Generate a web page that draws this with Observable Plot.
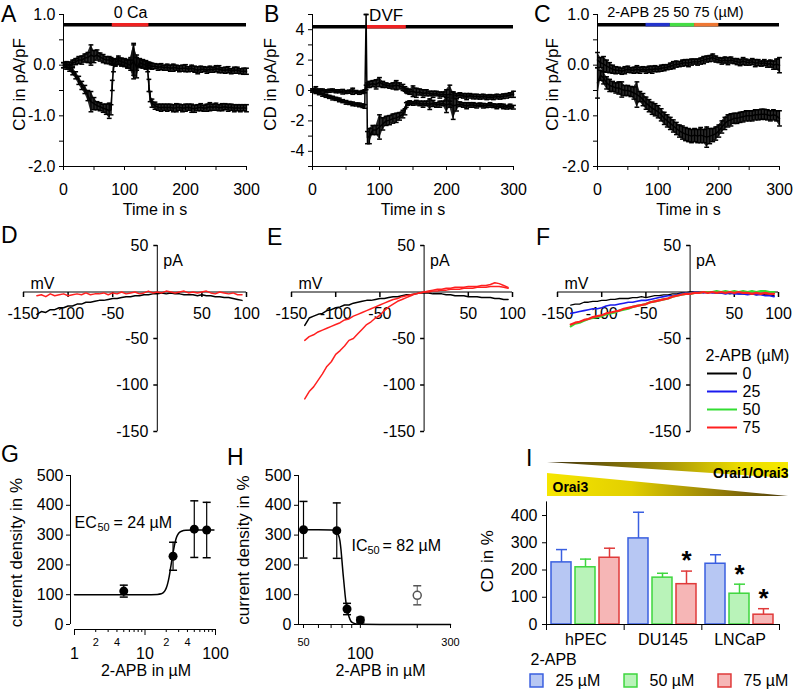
<!DOCTYPE html>
<html><head><meta charset="utf-8">
<script src="https://cdn.jsdelivr.net/npm/d3@7"></script>
<script src="https://cdn.jsdelivr.net/npm/@observablehq/plot@0.6"></script>
<style>
body{margin:0;background:#fff;}
#fig{position:relative;width:793px;height:690px;overflow:hidden;background:#fff;font-family:"Liberation Sans",Arial,Helvetica,sans-serif;color:#000;}
.lab{position:absolute;font-size:23px;line-height:26px;}
</style></head><body><div id="fig"></div>
<script>
// ---------------- DATA ----------------
// Panels A-C: time courses (s) and current density (pA/pF), mean and SEM
const tA = [0,5,10,15,20,25,30,35,40,45,50,55,60,65,70,75,78,80,82,85,90,95,100,105,110,115,120,125,130,135,138,140,142,145,150,155,160,165,170,175,180,185,190,195,200,205,210,215,220,225,230,235,240,245,250,255,260,265,270,275,280,285,290,295,300];
const aUpper = [0.00,0.02,0.00,0.04,0.07,0.10,0.10,0.14,0.15,0.20,0.17,0.20,0.16,0.13,0.10,0.10,0.08,0.07,0.06,0.05,0.08,0.05,0.06,0.03,0.05,0.10,0.05,0.03,0.04,0.02,0.00,0.00,-0.01,
  -0.02,-0.02,-0.04,-0.03,-0.05,-0.04,-0.06,-0.05,-0.05,-0.07,-0.06,-0.06,-0.08,-0.06,-0.08,-0.10,-0.08,-0.08,-0.10,-0.08,-0.09,-0.07,-0.08,-0.10,-0.10,-0.09,-0.12,-0.10,-0.10,-0.12,-0.12,-0.12];
const aUpperErr = [0.05,0.05,0.06,0.06,0.06,0.07,0.08,0.08,0.1,0.2,0.12,0.1,0.08,0.08,0.07,0.07,0.07,0.06,0.06,0.06,0.07,0.07,0.06,0.08,0.1,0.3,0.15,0.08,0.07,0.07,0.06,0.06,0.06,
  0.06,0.05,0.06,0.06,0.05,0.06,0.06,0.07,0.05,0.06,0.06,0.07,0.05,0.06,0.06,0.07,0.06,0.05,0.06,0.06,0.05,0.06,0.07,0.05,0.06,0.06,0.05,0.06,0.06,0.05,0.06,0.06];
const aLower = [0.00,-0.03,-0.06,-0.12,-0.20,-0.30,-0.40,-0.48,-0.60,-0.72,-0.76,-0.80,-0.82,-0.85,-0.87,-0.90,-0.88,-0.40,-0.05,0.05,0.10,0.07,0.05,0.02,0.00,0.08,-0.05,0.05,0.02,0.00,-0.05,-0.40,-0.62,
  -0.75,-0.80,-0.83,-0.84,-0.83,-0.84,-0.83,-0.85,-0.84,-0.83,-0.85,-0.84,-0.83,-0.85,-0.86,-0.84,-0.83,-0.85,-0.84,-0.82,-0.83,-0.82,-0.84,-0.83,-0.82,-0.84,-0.83,-0.85,-0.84,-0.85,-0.84,-0.85];
const aLowerErr = [0.05,0.05,0.06,0.07,0.07,0.08,0.08,0.08,0.1,0.2,0.12,0.08,0.08,0.08,0.1,0.15,0.1,0.1,0.08,0.07,0.08,0.07,0.08,0.08,0.1,0.35,0.2,0.08,0.08,0.08,0.08,0.12,0.1,
  0.08,0.07,0.06,0.07,0.06,0.07,0.06,0.07,0.08,0.06,0.07,0.07,0.06,0.08,0.07,0.06,0.07,0.06,0.07,0.08,0.06,0.07,0.06,0.07,0.06,0.07,0.06,0.07,0.06,0.07,0.06,0.07];
const aSegStart = [0, 80], aSegEnd = [300, 140], aSegColor = ["#000000", "#ee2222"], aSegLevel = 0.8;

const tB = tA;
const bUpper = [0.00,0.05,0.00,0.00,-0.05,-0.02,0.00,-0.05,-0.05,-0.08,-0.10,-0.08,-0.05,-0.10,-0.15,-0.10,-0.05,0.20,0.35,0.40,0.45,0.40,0.55,0.40,0.35,0.30,0.30,0.35,0.30,0.20,0.10,0.00,-0.05,
  -0.10,-0.05,-0.15,-0.10,-0.20,-0.15,-0.20,-0.25,-0.20,-0.30,-0.25,-0.30,-0.25,-0.30,-0.35,-0.30,-0.35,-0.40,-0.35,-0.40,-0.40,-0.42,-0.40,-0.45,-0.42,-0.45,-0.40,-0.42,-0.38,-0.35,-0.30,-0.25];
const bUpperErr = [0.1,0.2,0.1,0.1,0.1,0.1,0.1,0.1,0.1,0.15,0.1,0.1,0.2,0.1,0.1,0.1,0.1,0.15,0.15,0.2,0.2,0.3,0.3,0.2,0.15,0.15,0.2,0.3,0.2,0.2,0.15,0.15,0.15,
  0.15,0.35,0.3,0.2,0.25,0.2,0.15,0.2,0.15,0.2,0.15,0.35,0.6,0.2,0.15,0.15,0.15,0.2,0.15,0.15,0.15,0.15,0.15,0.15,0.15,0.15,0.15,0.15,0.15,0.15,0.15,0.2];
const bLower = [0.00,-0.10,-0.18,-0.28,-0.35,-0.42,-0.50,-0.55,-0.62,-0.70,-0.78,-0.82,-0.88,-0.92,-0.95,-1.00,-1.05,5.00,-3.10,-3.00,-2.60,-2.60,-2.40,-2.20,-2.00,-1.95,-1.85,-1.80,-1.70,-1.55,-1.40,-0.95,-0.85,
  -0.80,-0.85,-0.80,-0.85,-0.90,-0.85,-0.90,-0.85,-0.95,-0.90,-0.85,-0.95,-0.90,-1.00,-0.95,-0.90,-0.95,-1.00,-0.95,-0.95,-1.00,-0.95,-1.00,-1.00,-0.95,-1.00,-1.05,-1.00,-1.05,-1.10,-1.05,-1.10];
const bLowerErr = [0.1,0.1,0.1,0.1,0.1,0.1,0.12,0.1,0.12,0.1,0.12,0.1,0.12,0.1,0.12,0.12,0.12,0,0.4,0.5,0.3,0.3,0.8,0.4,0.3,0.3,0.3,0.3,0.25,0.25,0.2,0.15,0.12,
  0.12,0.12,0.15,0.15,0.2,0.15,0.35,0.2,0.15,0.2,0.15,0.5,0.2,0.9,0.4,0.15,0.15,0.2,0.15,0.15,0.15,0.12,0.15,0.12,0.15,0.12,0.15,0.12,0.15,0.12,0.15,0.12];
const bSegStart = [0, 80], bSegEnd = [300, 140], bSegColor = ["#000000", "#ee2222"], bSegLevel = 4.2;

const tC = [0,5,10,15,20,25,30,35,40,45,50,55,60,65,70,75,80,85,90,95,100,105,110,115,120,125,130,135,140,145,150,155,160,165,170,175,180,185,190,195,200,205,210,215,220,225,230,235,240,245,250,255,260,265,270,275,280,285,290,295,300];
const cUpper = [0.10,0.05,0.02,-0.02,-0.05,-0.08,-0.10,-0.10,-0.12,-0.10,-0.08,-0.10,-0.10,-0.08,-0.10,-0.08,-0.10,-0.08,-0.09,-0.07,
  -0.08,-0.06,-0.05,-0.04,-0.02,0.00,0.02,0.02,0.04,0.05,0.04,0.06,0.07,0.06,0.08,0.10,0.12,0.13,0.15,0.12,
  0.10,0.08,0.10,0.08,0.10,0.08,0.07,0.05,0.08,0.06,0.05,0.07,0.04,0.05,0.03,0.05,0.02,0.03,0.00,0.02,0.00];
const cUpperErr = [0.15,0.10,0.15,0.12,0.10,0.08,0.07,0.06,0.06,0.07,0.06,0.05,0.06,0.07,0.06,0.05,0.06,0.06,0.07,0.06,
  0.05,0.06,0.06,0.05,0.06,0.07,0.06,0.05,0.06,0.06,0.07,0.06,0.05,0.06,0.06,0.07,0.06,0.06,0.07,0.06,
  0.05,0.06,0.06,0.07,0.06,0.05,0.06,0.06,0.07,0.06,0.05,0.06,0.07,0.06,0.05,0.06,0.06,0.07,0.08,0.10,0.15];
const cLower = [-0.35,-0.20,-0.25,-0.35,-0.40,-0.42,-0.45,-0.45,-0.48,-0.50,-0.50,-0.52,-0.55,-0.58,-0.62,-0.68,-0.75,-0.80,-0.85,-0.88,
  -0.92,-0.98,-1.05,-1.10,-1.15,-1.20,-1.25,-1.30,-1.33,-1.36,-1.38,-1.40,-1.38,-1.40,-1.38,-1.40,-1.42,-1.40,-1.38,-1.35,
  -1.30,-1.22,-1.15,-1.10,-1.08,-1.05,-1.05,-1.03,-1.02,-1.00,-1.00,-1.00,-0.98,-0.98,-0.97,-0.97,-0.98,-1.00,-0.98,-1.00,-1.05];
const cLowerErr = [0.30,0.10,0.12,0.12,0.12,0.10,0.10,0.12,0.15,0.10,0.10,0.10,0.12,0.25,0.10,0.12,0.12,0.12,0.12,0.12,
  0.12,0.12,0.12,0.12,0.12,0.12,0.12,0.12,0.13,0.13,0.13,0.13,0.13,0.13,0.15,0.13,0.20,0.15,0.13,0.13,
  0.12,0.12,0.12,0.12,0.12,0.10,0.10,0.10,0.10,0.10,0.10,0.10,0.10,0.10,0.10,0.10,0.10,0.10,0.10,0.10,0.15];
const cSegStart = [0, 80, 120, 160], cSegEnd = [300, 120, 160, 200];
const cSegColor = ["#000000", "#2233cc", "#44dd44", "#ee7733"], cSegLevel = 0.8;

const timeTicks = [0,50,100,150,200,250,300];
const acYTicks = [-2,-1.5,-1,-0.5,0,0.5,1];
const bYTicks = [-5,-4,-3,-2,-1,0,1,2,3,4,5];

// Panels D-F: I-V curves (mV, pA)
const vIV = [-135,-130,-125,-120,-115,-110,-105,-100,-95,-90,-85,-80,-75,-70,-65,-60,-55,-50,-45,-40,-35,-30,-25,-20,-15,-10,-5,0,5,10,15,20,25,30,35,40,45,50,55,60,65,70,75,80,85,90,95];
const dBlack = [-24,-21,-22,-19,-19,-17,-17,-15,-15,-13,-13,-11,-11,-10,-9,-9,-8,-7,-7,-6,-5,-5,-4,-4,-3,-3,-2,-2,-1,-2,-1,-2,-2,-3,-3,-3,-4,-3,-4,-4,-5,-5,-6,-6,-7,-8,-9];
const dRed = [-4,-3,-5,-2,-4,-3,-2,-4,-3,-2,-3,-1,-3,-2,-2,-1,-3,-1,-2,0,-2,-1,0,-2,-1,1,-1,0,-1,1,0,-1,0,1,-1,0,-1,0,1,-1,-2,0,-1,-2,-1,-3,-3];
const eBlack = [-36,-28,-26,-24,-23,-20,-19,-17,-16,-14,-14,-12,-11,-10,-9,-9,-8,-7,-7,-6,-5,-5,-4,-3,-3,-2,-1,-1,-1,-2,-2,-2,-3,-3,-4,-4,-4,-5,-5,-5,-6,-6,-6,-7,-7,-8,-8];
const eRed1 = [-52,-48,-46,-43,-41,-39,-37,-35,-33,-30,-29,-26,-24,-22,-20,-18,-16,-14,-12,-10,-8,-7,-5,-4,-3,-2,-1,0,0,1,1,2,2,3,3,3,4,4,4,5,5,5,6,6,6,5,4];
const eRed2 = [-115,-107,-102,-95,-88,-80,-75,-67,-63,-58,-52,-50,-45,-40,-35,-32,-28,-25,-20,-16,-13,-10,-8,-6,-4,-2,-1,0,1,2,3,3,4,4,5,5,5,6,6,6,7,7,8,10,9,7,5];
const fBlack = [-14,-13,-13,-11,-11,-10,-10,-9,-9,-8,-8,-7,-7,-7,-6,-6,-5,-6,-5,-4,-4,-3,-3,-2,-2,-1,-1,0,0,0,0,-1,0,-1,-1,-1,-2,-1,-2,-2,-2,-2,-3,-2,-3,-3,-4];
const fBlue = [-23,-22,-21,-20,-19,-18,-18,-17,-15,-14,-14,-13,-12,-11,-11,-10,-9,-9,-8,-7,-6,-5,-4,-4,-3,-2,-1,-1,0,0,-1,0,-1,-1,-1,-2,-1,-2,-2,-2,-3,-2,-3,-3,-4,-4,-5];
const fGreen = [-37,-34,-33,-31,-29,-28,-27,-26,-24,-23,-22,-20,-19,-18,-16,-15,-14,-13,-11,-10,-9,-8,-7,-5,-4,-3,-2,-2,-1,-1,0,0,0,1,0,1,0,1,0,1,0,1,0,1,1,0,0];
const fRed = [-35,-33,-32,-30,-29,-27,-26,-25,-23,-22,-21,-20,-18,-17,-16,-15,-14,-13,-11,-10,-9,-8,-7,-5,-4,-3,-2,-2,-1,-1,0,-1,0,-1,0,-1,0,-1,0,-1,-1,-2,-1,-2,-1,-2,-2];
const ivXTicks = [-150,-100,-50,50,100];
const ivYTicks = [50,-50,-100,-150];
const fLegendTitle = "2-APB (µM)";
const fLegendLabels = ["0","25","50","75"];

// Panel G: dose response (activation)
const gConc = [5,25,50,75];
const gMean = [112,229,320,317];
const gErr = [20,47,95,93];
const gFitX = [1,5,10,15,17,18,19,20,21,22,23,24,25,26,27,28,30,33,38,50,95];
const gFitY = [100,100,100,101,103,106,112,122,138,160,188,215,240,262,280,293,306,313,316,317,317];
const gYTicks = [0,100,200,300,400,500];
const gMajorTicks = [1,10,100];
const gMinorTicks = [2,3,4,5,6,7,8,9,20,30,40,50,60,70,80,90];
const gSmallTicks = [2,4,20,40];
const gSmallText = ["2","4","2","4"];

// Panel H: dose response (inhibition)
const hConc = [50,75,85,100];
const hMean = [318,315,52,15];
const hErr = [95,93,19,9];
const hOpenConc = [200], hOpenMean = [98], hOpenErr = [32];
const hFitX = [50,60,70,74,76,78,79,80,81,82,83,84,86,88,90,95,100,150,300];
const hFitY = [318,318,317,314,305,280,250,210,170,135,100,72,38,18,8,2,0.5,0,0];
const hXTicks = [50,60,70,80,90,100,200,300];
const hSmallTicks = [50,300];
const hMajorTicks = [100];

// Panel I: grouped bars
const iGroups = ["hPEC","DU145","LNCaP"];
const iConc = ["25 µM","50 µM","75 µM"];
const iMean = [[228,210,245],[316,172,148],[223,113,36]];
const iErr = [[47,30,35],[96,16,48],[33,35,22]];
const iSig = [[false,false,false],[false,false,true],[false,true,true]];
const iYTicks = [0,100,200,300,400];
const iBoundaries = [0,1,2,3];
const iFill = ["#b7c7f3","#b9f3b9","#f6b6b6"];
const iStroke = ["#3a5fe0","#3ed63e","#e03a3a"];
const wedgeX = [0, 1];
const orai13Lower = [1, 0.53], orai13Upper = [1, 1];
const orai3Lower = [0, 0], orai3Upper = [0.68, 0];

// ---------------- HELPERS ----------------
const FONT = '"Liberation Sans", Arial, Helvetica, sans-serif';
const fig = document.getElementById("fig");
function style(extra = {}) {
  return Object.assign({background: "transparent", overflow: "visible", maxWidth: "none", fontSize: "16px", fontFamily: FONT, color: "#000"}, extra);
}
function add(svg, left, top) {
  svg.style.position = "absolute";
  svg.style.left = left + "px";
  svg.style.top = top + "px";
  fig.appendChild(svg);
}
function letter(txt, left, top) {
  const d = document.createElement("div");
  d.className = "lab"; d.textContent = txt;
  d.style.left = left + "px"; d.style.top = top + "px";
  fig.appendChild(d);
}
const capSymbol = {draw(ctx, size) { const r = Math.sqrt(size / Math.PI); ctx.moveTo(-r, 0); ctx.lineTo(r, 0); }};
const downTick = {draw(ctx, size) { const r = Math.sqrt(size / Math.PI); ctx.moveTo(0, 0); ctx.lineTo(0, r); }};
const leftTick = {draw(ctx, size) { const r = Math.sqrt(size / Math.PI); ctx.moveTo(0, 0); ctx.lineTo(-r, 0); }};
const M = {lineAnchor: "middle"};
const ROT = {rotate: -90, textAnchor: "middle", lineAnchor: "middle", fontSize: 17};

function timePanel(o) {
  const marks = [
    Plot.ruleY([o.yTicks[0]], {stroke: "#000"}),
    Plot.ruleX([timeTicks[0]], {stroke: "#000"}),
    Plot.ruleY(o.segColor, {y: o.segLevel, x1: (d, i) => o.segStart[i], x2: (d, i) => o.segEnd[i], stroke: d => d, strokeWidth: 3.5})
  ];
  for (const [m, e] of [[o.up, o.upErr], [o.lo, o.loErr]]) {
    marks.push(
      Plot.areaY(m, {x: o.t, y1: (d, i) => d - e[i], y2: (d, i) => d + e[i], fill: "#111", fillOpacity: 0.9}),
      Plot.ruleX(m, {x: o.t, y1: (d, i) => d - e[i], y2: (d, i) => d + e[i], stroke: "#000", strokeWidth: 1.3}),
      Plot.dot(m, {x: o.t, y: (d, i) => d + e[i], symbol: capSymbol, r: 2.4, stroke: "#000", fill: "none"}),
      Plot.dot(m, {x: o.t, y: (d, i) => d - e[i], symbol: capSymbol, r: 2.4, stroke: "#000", fill: "none"}),
      Plot.line(m, {x: o.t, y: d => d, stroke: "#000", strokeWidth: 1.5})
    );
  }
  marks.push(
    Plot.axisY({ticks: o.yTicks, tickFormat: o.yFmt, tickSize: 4, tickPadding: 4, label: null}),
    Plot.axisX({ticks: timeTicks, tickFormat: d => (d % 100 === 0 ? String(d) : ""), tickSize: 4, tickPadding: 13, label: null}),
    Plot.text(["Time in s"], {frameAnchor: "bottom", dy: 43, ...M, text: d => d}),
    Plot.text(["CD in pA/pF"], {frameAnchor: "left", dx: o.ylabDx, dy: -6, ...ROT, text: d => d}),
    ...o.extra
  );
  return Plot.plot({
    width: o.width, height: 215, marginLeft: o.ml, marginRight: o.mr, marginTop: 14, marginBottom: 49,
    x: {domain: [0, 300]}, y: {domain: [o.yTicks[0], o.yTicks[o.yTicks.length - 1]]},
    style: style(), marks
  });
}

const acFmt = d => (Number.isInteger(d) ? d.toFixed(1) : "");
add(timePanel({t: tA, up: aUpper, upErr: aUpperErr, lo: aLower, loErr: aLowerErr, yTicks: acYTicks, yFmt: acFmt,
  segStart: aSegStart, segEnd: aSegEnd, segColor: aSegColor, segLevel: aSegLevel, width: 260, ml: 63, mr: 14, ylabDx: -44,
  extra: [Plot.text(["0 Ca"], {x: (aSegStart[1] + aSegEnd[1]) / 2, frameAnchor: "top", dy: -2, ...M, text: d => d})]}), 0, 0);

add(timePanel({t: tB, up: bUpper, upErr: bUpperErr, lo: bLower, loErr: bLowerErr, yTicks: bYTicks, yFmt: d => (d % 2 === 0 ? String(d) : ""),
  segStart: bSegStart, segEnd: bSegEnd, segColor: bSegColor, segLevel: bSegLevel, width: 270, ml: 52, mr: 17, ylabDx: -42,
  extra: [Plot.text(["DVF"], {x: bSegStart[1], frameAnchor: "top", dx: 3, dy: 1, textAnchor: "start", ...M, fontSize: 17, text: d => d})]}), 260, 0);

add(timePanel({t: tC, up: cUpper, upErr: cUpperErr, lo: cLower, loErr: cLowerErr, yTicks: acYTicks, yFmt: acFmt,
  segStart: cSegStart, segEnd: cSegEnd, segColor: cSegColor, segLevel: cSegLevel, width: 263, ml: 67, mr: 14, ylabDx: -45,
  extra: [Plot.text(["2-APB 25 50 75 (µM)"], {x: (cSegStart[1] + cSegEnd[3]) / 2, frameAnchor: "top", dx: -7, dy: -2, ...M, fontSize: 14.5, text: d => d})]}), 530, 0);

function ivPanel(o) {
  const marks = [
    Plot.ruleY([0], {x1: ivXTicks[0], x2: ivXTicks[ivXTicks.length - 1], stroke: "#000"}),
    Plot.ruleX([0], {y1: ivYTicks[ivYTicks.length - 1], y2: ivYTicks[0], stroke: "#000"}),
    Plot.dot(ivXTicks, {x: d => d, y: 0, symbol: downTick, r: 5, stroke: "#000", fill: "none"}),
    Plot.dot(ivYTicks, {x: 0, y: d => d, symbol: leftTick, r: 4, stroke: "#000", fill: "none"}),
    Plot.text(ivXTicks, {x: d => d, y: 0, dy: 22, ...M, text: d => String(d)}),
    Plot.text(ivYTicks, {x: 0, y: d => d, dx: -9, textAnchor: "end", ...M, text: d => String(d)}),
    Plot.text(["mV"], {x: ivXTicks[0], y: 0, dx: 7, dy: -8, textAnchor: "start", ...M, text: d => d}),
    Plot.text(["pA"], {x: 0, y: ivYTicks[0], dx: 6, dy: 15, textAnchor: "start", ...M, text: d => d}),
    ...o.traces.map(([vals, color, w]) => Plot.line(vals, {x: vIV, y: d => d, stroke: color, strokeWidth: w}))
  ];
  return Plot.plot({
    width: o.width, height: 240, marginLeft: o.ml, marginRight: o.mr, marginTop: 30, marginBottom: 24,
    x: {domain: [-150, 100], axis: null}, y: {domain: [-150, 50], axis: null},
    style: style(), marks
  });
}
add(ivPanel({width: 260, ml: 23, mr: 14, traces: [[dBlack, "#000", 1.5], [dRed, "#ff2020", 1.5]]}), 0, 215);
add(ivPanel({width: 265, ml: 26, mr: 18, traces: [[eBlack, "#000", 1.5], [eRed1, "#ff2020", 1.5], [eRed2, "#ff2020", 1.5]]}), 265, 215);
add(ivPanel({width: 263, ml: 27, mr: 15, traces: [[fBlack, "#000", 1.3], [fBlue, "#1a1aee", 1.6], [fGreen, "#33dd33", 2.2], [fRed, "#ff2020", 2.2]]}), 530, 215);

// F legend
const fColors = ["#000000", "#1a1aee", "#33dd33", "#ff2020"];
add(Plot.plot({
  width: 93, height: 100, marginLeft: 7, marginRight: 56, marginTop: 0, marginBottom: 0,
  x: {domain: [0, 1], range: [7, 37], axis: null},
  y: {type: "point", domain: fLegendLabels, range: [32, 87], padding: 0, axis: null},
  style: style(),
  marks: [
    Plot.text([fLegendTitle], {frameAnchor: "top-left", dx: -2, dy: 15, textAnchor: "start", ...M, text: d => d}),
    Plot.ruleY(fLegendLabels, {y: d => d, x1: 0, x2: 1, stroke: (d, i) => fColors[i], strokeWidth: 2}),
    Plot.text(fLegendLabels, {y: d => d, x: 1, dx: 5, textAnchor: "start", ...M, text: d => d})
  ]
}), 700, 340);

// G
add(Plot.plot({
  width: 260, height: 230, marginLeft: 70, marginRight: 45, marginTop: 15, marginBottom: 61,
  x: {type: "log", domain: [gMajorTicks[0], gMajorTicks[2]], insetLeft: 4},
  y: {domain: [gYTicks[0], gYTicks[gYTicks.length - 1]], insetBottom: 5},
  style: style(),
  marks: [
    Plot.ruleX([gMajorTicks[0]], {y1: gYTicks[0], y2: gYTicks[gYTicks.length - 1], dx: -4, stroke: "#000"}),
    Plot.ruleY([gYTicks[0]], {x1: gMajorTicks[0], x2: gMajorTicks[2], dy: 5, stroke: "#000"}),
    Plot.axisY({ticks: gYTicks, tickSize: 4, tickPadding: 3, label: null}),
    Plot.axisX({ticks: gMinorTicks, tickFormat: () => "", tickSize: 3, label: null}),
    Plot.axisX({ticks: gMajorTicks, tickFormat: () => "", tickSize: 6, label: null}),
    Plot.text(gMajorTicks, {x: d => d, frameAnchor: "bottom", dy: 24, ...M, text: d => String(d)}),
    Plot.text(gSmallTicks, {x: d => d, frameAnchor: "bottom", dy: 13, ...M, fontSize: 11, text: (d, i) => gSmallText[i]}),
    Plot.text(["2-APB in µM"], {frameAnchor: "bottom", dx: 3, dy: 41, ...M, text: d => d}),
    Plot.text(["current density in %"], {frameAnchor: "left", dx: -54, ...ROT, text: d => d}),
    Plot.line(gFitX, {x: d => d, y: (d, i) => gFitY[i], curve: "monotone-x", stroke: "#000", strokeWidth: 1.5}),
    Plot.ruleX(gConc, {x: d => d, y1: (d, i) => gMean[i] - gErr[i], y2: (d, i) => gMean[i] + gErr[i], stroke: "#000", strokeWidth: 1.2}),
    Plot.dot(gConc, {x: d => d, y: (d, i) => gMean[i] + gErr[i], symbol: capSymbol, r: 4, stroke: "#000", fill: "none"}),
    Plot.dot(gConc, {x: d => d, y: (d, i) => gMean[i] - gErr[i], symbol: capSymbol, r: 4, stroke: "#000", fill: "none"}),
    Plot.dot(gConc, {x: d => d, y: (d, i) => gMean[i], r: 4.5, fill: "#000"}),
    Plot.text(["EC"], {frameAnchor: "top-left", dx: 4, dy: 47, textAnchor: "start", ...M, text: d => d}),
    Plot.text(["50"], {frameAnchor: "top-left", dx: 27, dy: 52, textAnchor: "start", ...M, fontSize: 11, text: d => d}),
    Plot.text(["= 24 µM"], {frameAnchor: "top-left", dx: 43, dy: 47, textAnchor: "start", ...M, text: d => d})
  ]
}), 0, 460);

// H
add(Plot.plot({
  width: 330, height: 230, marginLeft: 98, marginRight: 80, marginTop: 15, marginBottom: 66,
  x: {type: "log", domain: [hXTicks[0], hXTicks[hXTicks.length - 1]], insetLeft: 5},
  y: {domain: [gYTicks[0], gYTicks[gYTicks.length - 1]]},
  style: style(),
  marks: [
    Plot.ruleX([hXTicks[0]], {y1: gYTicks[0], y2: gYTicks[gYTicks.length - 1], dx: -5, stroke: "#000"}),
    Plot.ruleY([gYTicks[0]], {stroke: "#000"}),
    Plot.axisY({ticks: gYTicks, tickSize: 4, tickPadding: 3, label: null}),
    Plot.axisX({ticks: hXTicks, tickFormat: () => "", tickSize: 4, label: null}),
    Plot.text(hSmallTicks, {x: d => d, frameAnchor: "bottom", dy: 18, ...M, fontSize: 11, text: d => String(d)}),
    Plot.text(hMajorTicks, {x: d => d, frameAnchor: "bottom", dy: 29, ...M, text: d => String(d)}),
    Plot.text(["2-APB in µM"], {frameAnchor: "bottom", dx: 6, dy: 46, ...M, text: d => d}),
    Plot.text(["current density in %"], {frameAnchor: "left", dx: -55, ...ROT, text: d => d}),
    Plot.line(hFitX, {x: d => d, y: (d, i) => hFitY[i], curve: "monotone-x", stroke: "#000", strokeWidth: 1.5}),
    Plot.ruleX(hConc, {x: d => d, y1: (d, i) => hMean[i] - hErr[i], y2: (d, i) => hMean[i] + hErr[i], stroke: "#000", strokeWidth: 1.2}),
    Plot.dot(hConc, {x: d => d, y: (d, i) => hMean[i] + hErr[i], symbol: capSymbol, r: 4, stroke: "#000", fill: "none"}),
    Plot.dot(hConc, {x: d => d, y: (d, i) => hMean[i] - hErr[i], symbol: capSymbol, r: 4, stroke: "#000", fill: "none"}),
    Plot.dot(hConc, {x: d => d, y: (d, i) => hMean[i], r: 4.5, fill: "#000"}),
    Plot.ruleX(hOpenConc, {x: d => d, y1: (d, i) => hOpenMean[i] - hOpenErr[i], y2: (d, i) => hOpenMean[i] + hOpenErr[i], stroke: "#555", strokeWidth: 1}),
    Plot.dot(hOpenConc, {x: d => d, y: (d, i) => hOpenMean[i] + hOpenErr[i], symbol: capSymbol, r: 4, stroke: "#555", fill: "none"}),
    Plot.dot(hOpenConc, {x: d => d, y: (d, i) => hOpenMean[i] - hOpenErr[i], symbol: capSymbol, r: 4, stroke: "#555", fill: "none"}),
    Plot.dot(hOpenConc, {x: d => d, y: (d, i) => hOpenMean[i], r: 4, stroke: "#555", fill: "#fff"}),
    Plot.text(["IC"], {frameAnchor: "top-left", dx: 53, dy: 70, textAnchor: "start", ...M, text: d => d}),
    Plot.text(["50"], {frameAnchor: "top-left", dx: 69, dy: 75, textAnchor: "start", ...M, fontSize: 11, text: d => d}),
    Plot.text(["= 82 µM"], {frameAnchor: "top-left", dx: 84, dy: 70, textAnchor: "start", ...M, text: d => d})
  ]
}), 200, 460);

// I bars
const iData = [];
iGroups.forEach((g, gi) => iConc.forEach((c, ci) => iData.push({group: g, conc: c, ci, mean: iMean[gi][ci], err: iErr[gi][ci], sig: iSig[gi][ci]})));
const iLayout = {width: 323, height: 230, marginLeft: 76, marginRight: 14, marginTop: 41.4, marginBottom: 66};
add(Plot.plot({
  ...iLayout,
  fx: {domain: iGroups, padding: 0, label: null},
  x: {domain: iConc, paddingInner: 0.165, paddingOuter: 0.165, axis: null},
  y: {domain: [0, 450]},
  style: style(),
  marks: [
    Plot.barY(iData, {fx: "group", x: "conc", y: "mean", fill: d => iFill[d.ci], stroke: d => iStroke[d.ci], strokeWidth: 1.5}),
    Plot.ruleX(iData, {fx: "group", x: "conc", y1: "mean", y2: d => d.mean + d.err, stroke: d => iStroke[d.ci], strokeWidth: 1.5}),
    Plot.dot(iData, {fx: "group", x: "conc", y: d => d.mean + d.err, symbol: capSymbol, r: 5.5, stroke: d => iStroke[d.ci], strokeWidth: 1.5, fill: "none"}),
    Plot.text(iData, {filter: d => d.sig, fx: "group", x: "conc", y: d => d.mean + d.err, text: () => "*", dy: -10, ...M, fontSize: 26, fontWeight: "bold"}),
    Plot.axisY({ticks: iYTicks, tickSize: 5, tickPadding: 5, label: null}),
    Plot.axisFx({anchor: "bottom", tickSize: 0, tickPadding: 9, label: null})
  ]
}), 470, 460);
// I axis line, group boundary ticks and y title
add(Plot.plot({
  ...iLayout,
  x: {domain: [iBoundaries[0], iBoundaries[iBoundaries.length - 1]]},
  y: {domain: [0, 450], axis: null},
  style: style(),
  marks: [
    Plot.ruleY([0], {stroke: "#000"}),
    Plot.ruleX([iBoundaries[0]], {stroke: "#000"}),
    Plot.axisX({ticks: iBoundaries, tickFormat: () => "", tickSize: 6, label: null}),
    Plot.text(["CD in %"], {frameAnchor: "left", dx: -59, dy: -2, ...ROT, text: d => d})
  ]
}), 470, 460);

// I wedges (Orai expression)
add(Plot.plot({
  width: 246, height: 40, marginLeft: 0, marginRight: 5, marginTop: 2, marginBottom: 4,
  x: {domain: [0, 1], axis: null}, y: {domain: [0, 1], axis: null},
  style: style(),
  marks: [
    () => {
      const defs = document.createElementNS("http://www.w3.org/2000/svg", "defs");
      defs.innerHTML = '<linearGradient id="gradUp" x1="0" x2="1" y1="0" y2="0"><stop offset="0" stop-color="#3e300c"/><stop offset="0.45" stop-color="#9c8a08"/><stop offset="0.8" stop-color="#ecdc00"/><stop offset="1" stop-color="#f6ea00"/></linearGradient>' +
        '<linearGradient id="gradDown" x1="0" x2="1" y1="0" y2="0"><stop offset="0" stop-color="#f6e600"/><stop offset="0.35" stop-color="#e2cf00"/><stop offset="0.75" stop-color="#8c7508"/><stop offset="1" stop-color="#4a3a0e"/></linearGradient>';
      return defs;
    },
    Plot.areaY(wedgeX, {x: d => d, y1: (d, i) => orai13Lower[i], y2: (d, i) => orai13Upper[i], fill: "url(#gradUp)"}),
    Plot.areaY(wedgeX, {x: d => d, y1: (d, i) => orai3Lower[i], y2: (d, i) => orai3Upper[i], fill: "url(#gradDown)"}),
    Plot.text(["Orai1/Orai3"], {x: 1, frameAnchor: "top", dy: 11, textAnchor: "end", ...M, fontSize: 14, fontWeight: "bold", text: d => d}),
    Plot.text(["Orai3"], {frameAnchor: "top-left", dx: 5, dy: 25, textAnchor: "start", ...M, fontSize: 14, fontWeight: "bold", text: d => d})
  ]
}), 547, 460);

// I legend
add(Plot.plot({
  width: 273, height: 45, marginLeft: 0, marginRight: 0, marginTop: 0, marginBottom: 0,
  x: {type: "point", domain: iConc, range: [16, 204], padding: 0, axis: null},
  style: style(),
  marks: [
    Plot.text(["2-APB"], {frameAnchor: "top-left", dx: 10, dy: 14, textAnchor: "start", ...M, text: d => d}),
    Plot.dot(iConc, {x: d => d, frameAnchor: "top", dy: 35, symbol: "square", r: 7.3, fill: (d, i) => iFill[i], stroke: (d, i) => iStroke[i], strokeWidth: 1.5}),
    Plot.text(iConc, {x: d => d, frameAnchor: "top", dx: 19, dy: 35, textAnchor: "start", ...M, text: d => d})
  ]
}), 520, 645);

// Panel letters
letter("A", 1, 1); letter("B", 264, 1); letter("C", 534, 1);
letter("D", 1, 222); letter("E", 267, 224); letter("F", 536, 224);
letter("G", 1, 441); letter("H", 227, 444); letter("I", 526, 445);
</script></body></html>
